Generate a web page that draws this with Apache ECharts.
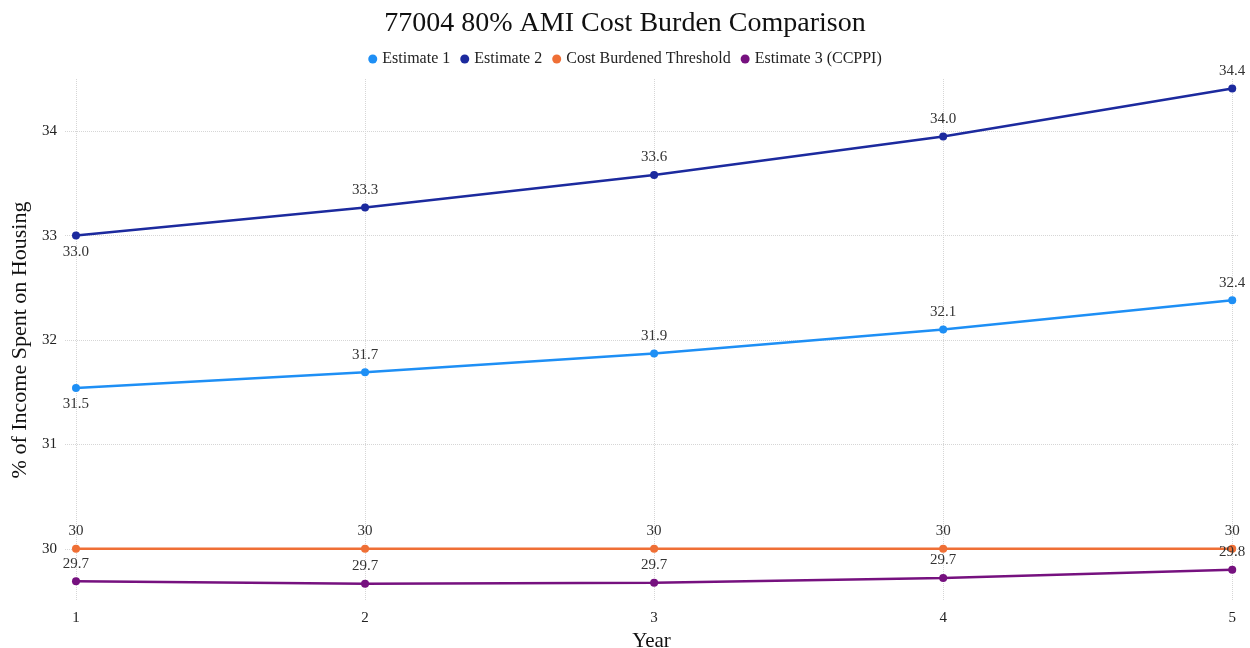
<!DOCTYPE html>
<html><head><meta charset="utf-8">
<script src="https://cdn.jsdelivr.net/npm/echarts@6/dist/echarts.min.js"></script>
<style>html,body{margin:0;padding:0;background:#fff}#c{width:1250px;height:648px}</style>
</head><body><div id="c"></div>
<script>
const years = [1, 2, 3, 4, 5];
const estimate1 = [31.54, 31.69, 31.87, 32.10, 32.38];
const estimate2 = [33.00, 33.27, 33.58, 33.95, 34.41];
const threshold = [30, 30, 30, 30, 30];
const estimate3 = [29.69, 29.665, 29.675, 29.72, 29.80];
const yTicks = [30, 31, 32, 33, 34];
const seriesNames = ['Estimate 1', 'Estimate 2', 'Cost Burdened Threshold', 'Estimate 3 (CCPPI)'];
const colors = ['#1e8ff5', '#1c2a9e', '#ef6f35', '#76117f'];

const font = '"Liberation Serif", "DejaVu Serif", serif';
function pairs(arr){ return years.map((x,i)=>[x, arr[i]]); }
function mk(name, arr, color, fmt, firstBelow){
  return {
    name, type:'line', data: pairs(arr).map((p,i)=>({
      value:p,
      label: (firstBelow && i===0) ? {position:'bottom', distance:5} : undefined
    })),
    symbol:'circle', symbolSize:8, showSymbol:true,
    lineStyle:{color, width:2.5}, itemStyle:{color},
    label:{show:true, position:'top', distance:6, fontFamily:font, fontSize:15, color:'#333',
      formatter: p => fmt(p.value[1])},
    emphasis:{disabled:true}, z: 3
  };
}
const chart = echarts.init(document.getElementById('c'));
chart.setOption({
  animation:false,
  color: colors,
  title:{text:'77004 80% AMI Cost Burden Comparison', left:'center', top:5,
    textStyle:{fontFamily:font, fontSize:28, fontWeight:'normal', color:'#111'}},
  legend:{top:46, left:'center', icon:'circle', itemWidth:9, itemHeight:9, itemGap:10,
    textStyle:{fontFamily:font, fontSize:16, color:'#222'}, data: seriesNames},
  grid:{left:65, right:12, top:79, bottom:47, containLabel:false, outerBoundsMode:'none'},
  xAxis:{type:'value', min:0.962, max:5.02,
    name:'Year', nameLocation:'middle', nameGap:27,
    nameTextStyle:{fontFamily:font, fontSize:21, color:'#111'},
    axisLine:{show:false}, axisTick:{show:false, customValues:years},
    axisLabel:{customValues:years, fontFamily:font, fontSize:15, color:'#222', margin:10},
    splitLine:{show:true, customValues:years, lineStyle:{type:'dotted', color:'#d6d6d6', width:1}}},
  yAxis:{type:'value', min:29.5, max:34.5,
    name:'% of Income Spent on Housing', nameLocation:'middle', nameGap:32,
    nameTextStyle:{fontFamily:font, fontSize:22, color:'#111'},
    axisLine:{show:false}, axisTick:{show:false, customValues:yTicks},
    axisLabel:{customValues:yTicks, fontFamily:font, fontSize:15, color:'#222', margin:8},
    splitLine:{show:true, customValues:yTicks, lineStyle:{type:'dotted', color:'#d6d6d6', width:1}}},
  series:[
    mk(seriesNames[0], estimate1, colors[0], v=>v.toFixed(1), true),
    mk(seriesNames[1], estimate2, colors[1], v=>v.toFixed(1), true),
    mk(seriesNames[2], threshold, colors[2], v=>String(Math.round(v)), false),
    mk(seriesNames[3], estimate3, colors[3], v=>v.toFixed(1), false)
  ]
});
</script></body></html>
